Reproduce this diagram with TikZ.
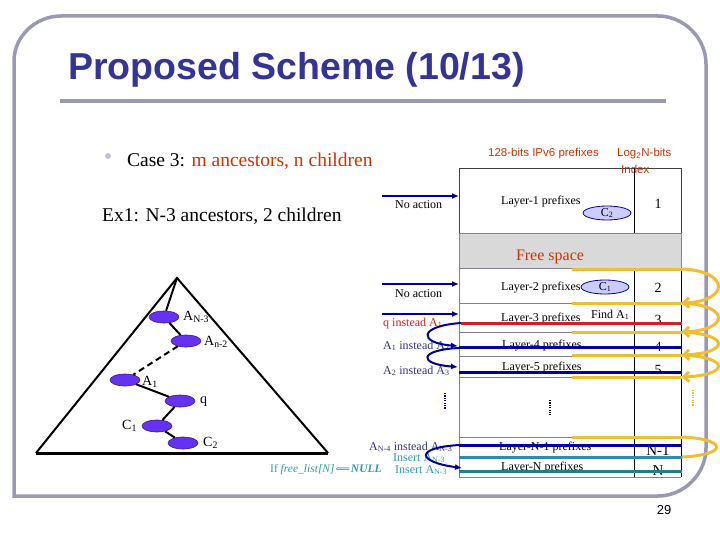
\documentclass[tikz,border=0pt]{standalone}
\usepackage{fontspec}
\setmainfont{Liberation Serif}
\newfontfamily\arialf{Liberation Sans}
\newfontfamily\dejaf{DejaVu Serif}
\usetikzlibrary{arrows.meta,shapes.geometric}
\definecolor{framec}{RGB}{153,153,182}
\definecolor{titlec}{RGB}{51,51,153}
\definecolor{orng}{RGB}{204,51,0}
\definecolor{dblue}{RGB}{0,0,153}
\definecolor{mblue}{RGB}{51,51,130}
\definecolor{redl}{RGB}{204,34,34}
\definecolor{gold}{RGB}{240,190,50}
\definecolor{tealA}{RGB}{40,140,180}
\definecolor{tealB}{RGB}{30,130,130}
\definecolor{tealT}{RGB}{51,153,170}
\definecolor{purp}{RGB}{100,50,240}
\definecolor{purpd}{RGB}{60,20,150}
\definecolor{lav}{RGB}{204,204,255}
\definecolor{bulletc}{RGB}{190,190,228}
\definecolor{grayfill}{RGB}{217,217,217}
\definecolor{sepc}{RGB}{128,128,150}
\begin{document}
\begin{tikzpicture}[x=1pt,y=-1pt,
  txt/.style={inner sep=0pt, anchor=base west, font=\fontsize{12}{14}\selectfont},
  idx/.style={inner sep=0pt, anchor=base, font=\fontsize{14}{16}\selectfont},
  lbl/.style={inner sep=0pt, anchor=base west, font=\fontsize{14}{16}\selectfont},
  hdr/.style={inner sep=0pt, anchor=base west, text=orng, font=\arialf\fontsize{11.5}{13}\selectfont},
  tnode/.style={ellipse, fill=purp, draw=purpd, line width=0.6pt, minimum width=30pt, minimum height=12pt, inner sep=0pt},
  tedge/.style={line width=2pt},
  cnode/.style={ellipse, fill=lav, draw=dblue, line width=0.8pt, minimum width=48pt, minimum height=14pt, inner sep=0pt, font=\fontsize{12}{14}\selectfont},
  bluearrow/.style={draw=dblue, line width=2pt, -{Latex[length=7pt,width=6pt]}},
  goldline/.style={draw=gold, line width=3pt},
  goldarrow/.style={goldline, -{Straight Barb[length=5pt,width=10pt]}},
  sepline/.style={draw=sepc, line width=0.8pt},
  dotsline/.style={line width=2.5pt, dash pattern=on 1.2pt off 1.2pt}
]
\useasboundingbox (0,0) rectangle (720,540);

% frame
\draw[framec, line width=3.5pt] (14,496) -- (14,61) .. controls (14,36) and (36,16) .. (61,16)
  -- (658,16) .. controls (684,16) and (706,38) .. (706,64) -- (706,448)
  .. controls (706,474) and (684,496) .. (658,496) -- cycle;

% title
\node[inner sep=0pt, anchor=base west, text=titlec, font=\arialf\bfseries\fontsize{37.5}{40}\selectfont] (title) at (68,80) {Proposed Scheme (10/13)};
\draw[framec, line width=4pt] (60,101) -- (666,101);

% bullet text
\node[circle, fill=bulletc, minimum size=6pt, inner sep=0pt] (bullet) at (108,156) {};
\node[inner sep=0pt, anchor=base west, font=\fontsize{19.5}{22}\selectfont] (case) at (127,167) {Case 3: \textcolor{orng}{m ancestors, n children}};
\node[inner sep=0pt, anchor=base west, font=\fontsize{19.5}{22}\selectfont] (ex1) at (102,222) {Ex1: N-3 ancestors, 2 children};

% table headers
\node[hdr] (h1) at (488,157) {128-bits IPv6 prefixes};
\node[hdr] (h2) at (617,157) {Log\textsubscript{2}N-bits};

% table structure
\draw[draw=black!75, line width=0.8pt] (459,168) rectangle (681,233);
\node[hdr] (h3) at (621,174) {Index};
\draw[black, line width=0.8pt] (634,168) -- (634,233);
\draw[draw=sepc, fill=grayfill, line width=0.8pt] (459,233) rectangle (681,268);
\node[inner sep=0pt, anchor=base, text=orng, font=\fontsize{16}{18}\selectfont] (free) at (550,260) {Free space};
\draw[sepline] (459,268) -- (459,477) -- (681,477);
\draw[black, line width=0.8pt] (681,268) -- (681,477);
\draw[black, line width=0.8pt] (634,268) -- (634,477);
\foreach \yy in {303,332,356,377,437} { \draw[sepline] (459,\yy) -- (634,\yy); \draw[sepline] (634,\yy) -- (681,\yy); }

% row texts
\node[txt] (l1) at (501,205) {Layer-1 prefixes};
\node[txt] (l2) at (501,290) {Layer-2 prefixes};
\node[txt] (l3) at (501,321) {Layer-3 prefixes};
\node[txt] (l4) at (502,348) {Layer-4 prefixes};
\node[txt] (l5) at (502,370) {Layer-5 prefixes};
\node[txt] (lN1) at (499,450) {Layer-N-1 prefixes};
\node[txt] (lN) at (501,470) {Layer-N prefixes};
\node[txt] (find) at (591,318) {Find A\textsubscript{1}};
\node[idx] (i1) at (658,208) {1};
\node[idx] (i2) at (658,292) {2};
\node[idx] (i3) at (658,324) {3};
\node[idx] (i4) at (658,351) {4};
\node[idx] (i5) at (658,374) {5};
\node[idx, font=\fontsize{15}{17}\selectfont] (iN1) at (658,455) {N-1};
\node[idx, font=\fontsize{15}{17}\selectfont] (iN) at (658,475) {N};

\node[cnode] (tc2) at (607,213) {C\textsubscript{2}};
\node[cnode] (tc1) at (605,287) {C\textsubscript{1}};

% coloured lines
\coordinate (r0) at (461,323); \coordinate (r1) at (682,323);
\coordinate (b0) at (459,347); \coordinate (b1) at (682,347);
\coordinate (c0) at (459,372); \coordinate (c1) at (682,372);
\coordinate (d0) at (459,445); \coordinate (d1) at (682,445);
\coordinate (e0) at (459,457); \coordinate (e1) at (682,457);
\coordinate (f0) at (459,471); \coordinate (f1) at (682,471);
\draw[redl, line width=3pt] (r0) -- (r1);
\draw[dblue, line width=3pt] (b0) -- (b1);
\draw[dblue, line width=3pt] (c0) -- (c1);
\draw[dblue, line width=3pt] (d0) -- (d1);
\draw[tealA, line width=3pt] (e0) -- (e1);
\draw[tealB, line width=3pt] (f0) -- (f1);

% left arrows and texts
\coordinate (na1) at (382,196); \coordinate (na1e) at (459,196);
\coordinate (na2) at (382,284); \coordinate (na2e) at (459,284);
\coordinate (na3) at (382,314); \coordinate (na3e) at (459,314);
\draw[bluearrow] (na1) -- (na1e);
\draw[bluearrow] (na2) -- (na2e);
\draw[bluearrow] (na3) -- (na3e);
\node[txt] (t1) at (395,208) {No action};
\node[txt] (t2) at (395,297) {No action};
\node[txt, text=redl] (t3) at (383,326) {q instead A\textsubscript{1}};
\node[txt, text=mblue] (t4) at (383,349) {A\textsubscript{1} instead A\textsubscript{2}};
\node[txt, text=mblue] (t5) at (383,374) {A\textsubscript{2} instead A\textsubscript{3}};
\node[txt, text=mblue] (t6) at (369,450) {A\textsubscript{N-4} instead A\textsubscript{N-3}};
\node[txt, text=tealT] (t7) at (393,461) {Insert A\textsubscript{N-3}};
\node[txt, text=tealT, font=\fontsize{11.5}{13}\selectfont] (t8) at (270,472) {If \textit{free\_list[N]}\kern1pt{\dejaf\fontsize{10}{12}\selectfont ⟸}\kern1pt\textbf{\textit{NULL}}};
\node[txt, text=tealT] (t9) at (395,473) {Insert A\textsubscript{N-3}};

\coordinate (s1e) at (458,346);
\coordinate (s2s) at (459,348); \coordinate (s2e) at (458,367);
\coordinate (s3e) at (462,468);
\draw[bluearrow] (r0) .. controls (418,326) and (418,343) .. (s1e);
\draw[bluearrow] (s2s) .. controls (418,350) and (418,364) .. (s2e);
\draw[bluearrow] (d0) .. controls (413,448) and (418,462) .. (s3e);

% dots
\draw[dotsline, dblue] (445,393) -- (445,409);
\draw[dotsline, black] (550,400) -- (550,415);
\draw[dotsline, gold] (693,390) -- (693,406);

% gold lines and loops
\foreach \yy/\nm in {269/g1,303/g2,332/g3,355/g4,377/g5,437/g6} {
  \coordinate (\nm a) at (572,\yy); \coordinate (\nm b) at (682,\yy);
  \draw[goldline] (\nm a) -- (\nm b);
}
\coordinate (g7b) at (682,457);
\draw[goldarrow] (g1b) .. controls (730,271) and (730,301) .. (g2b);
\draw[goldarrow] (g2b) .. controls (730,305) and (730,330) .. (g3b);
\draw[goldarrow] (g3b) .. controls (730,334) and (730,353) .. (g4b);
\draw[goldarrow] (g4b) .. controls (730,357) and (730,375) .. (g5b);
\draw[goldline] (g6b) .. controls (728,439) and (728,455) .. (g7b);

% tree
\coordinate (apex) at (177,278);
\coordinate (bl) at (36,453);
\coordinate (br) at (328,453);
\draw[line width=2pt, line join=miter] (bl) -- (apex) -- (br);
\draw[line width=3pt] (bl) -- (br);
\node[tnode] (AN3) at (164,317) {};
\node[tnode] (An2) at (186,341) {};
\node[tnode] (A1) at (125,380) {};
\node[tnode] (q) at (180,401) {};
\node[tnode] (C1) at (157,426) {};
\node[tnode] (C2) at (183,443) {};
\draw[tedge] (apex) -- (AN3);
\draw[tedge] (AN3) -- (An2);
\draw[tedge, dash pattern=on 6pt off 4pt] (An2) -- (A1);
\draw[tedge] (A1) -- (q);
\draw[tedge] (q) -- (C1);
\draw[tedge] (C1) -- (C2);
\node[lbl] (lAN3) at (183,320) {A\textsubscript{N-3}};
\node[lbl] (lAn2) at (204,345) {A\textsubscript{n-2}};
\node[lbl] (lA1) at (142,385) {A\textsubscript{1}};
\node[lbl] (lq) at (200,403) {q};
\node[lbl] (lC1) at (122,429) {C\textsubscript{1}};
\node[lbl] (lC2) at (203,446) {C\textsubscript{2}};

% page number
\node[inner sep=0pt, anchor=base, font=\arialf\fontsize{13}{15}\selectfont] (pg) at (664,514) {29};
\end{tikzpicture}
\end{document}
